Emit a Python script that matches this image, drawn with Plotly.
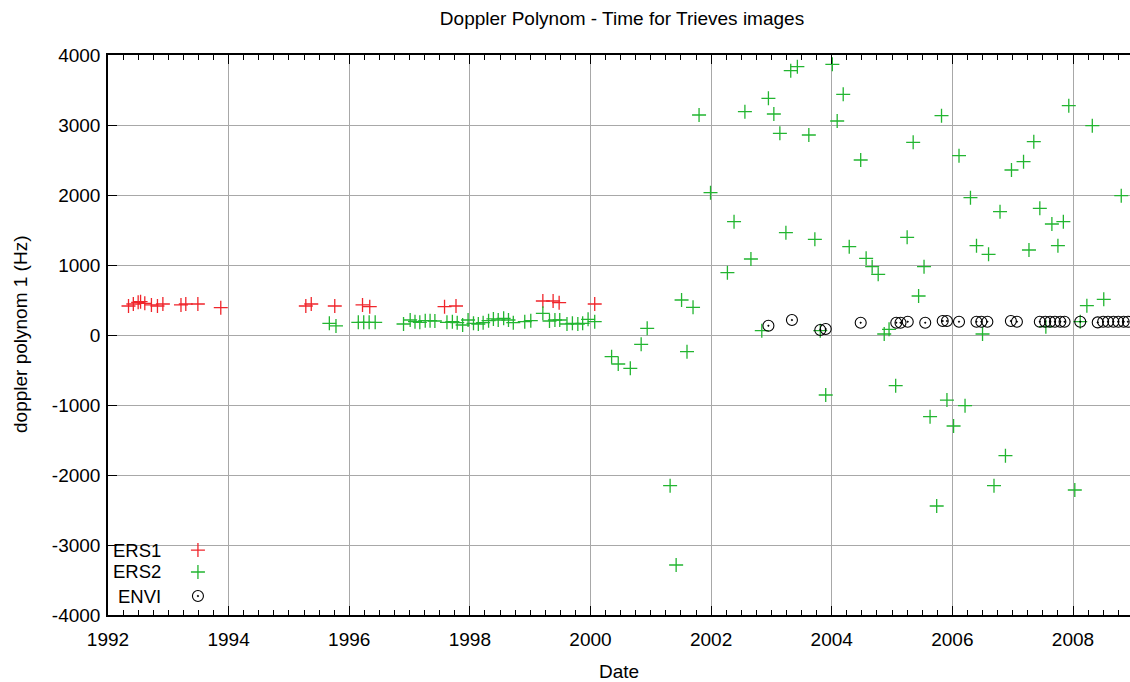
import plotly.graph_objects as go

# ---- data: acquisition date (decimal year) and Doppler polynomial coefficient (Hz)
ers1_dates = [1992.34, 1992.42, 1992.50, 1992.54, 1992.61, 1992.72, 1992.82, 1992.91,
              1993.21, 1993.29, 1993.49, 1993.87, 1995.28, 1995.37, 1995.76, 1996.22,
              1996.34, 1997.58, 1997.77, 1999.21, 1999.38, 1999.48, 2000.07]
ers1_values = [414, 443, 467, 476, 452, 429, 414, 443,
               429, 443, 443, 390, 414, 443, 414, 429,
               405, 405, 414, 486, 486, 462, 443]

ers2_dates = [1995.67, 1995.78, 1996.15, 1996.24, 1996.33, 1996.43, 1996.90, 1997.01,
              1997.09, 1997.17, 1997.26, 1997.34, 1997.42, 1997.62, 1997.71, 1997.79,
              1997.88, 1997.97, 1998.06, 1998.14, 1998.22, 1998.31, 1998.39, 1998.47,
              1998.56, 1998.64, 1998.72, 1998.91, 1999.01, 1999.21, 1999.32, 1999.41,
              1999.49, 1999.61, 1999.70, 1999.79, 1999.87, 1999.96, 2000.07, 2000.35,
              2000.46, 2000.66, 2000.84, 2000.94, 2001.32, 2001.42, 2001.51, 2001.60,
              2001.70, 2001.80, 2001.99, 2002.27, 2002.38, 2002.56, 2002.66, 2002.84,
              2002.95, 2003.04, 2003.14, 2003.24, 2003.32, 2003.43, 2003.62, 2003.72,
              2003.81, 2003.90, 2004.01, 2004.09, 2004.19, 2004.29, 2004.48, 2004.57,
              2004.67, 2004.77, 2004.87, 2004.95, 2005.06, 2005.25, 2005.35, 2005.44,
              2005.53, 2005.63, 2005.74, 2005.82, 2005.91, 2006.02, 2006.11, 2006.21,
              2006.30, 2006.40, 2006.50, 2006.60, 2006.69, 2006.79, 2006.88, 2006.98,
              2007.18, 2007.27, 2007.35, 2007.45, 2007.55, 2007.65, 2007.75, 2007.84,
              2007.93, 2008.03, 2008.12, 2008.23, 2008.32, 2008.51, 2008.80]
ers2_values = [167, 129, 181, 181, 181, 181, 157, 214,
               190, 181, 204, 204, 200, 181, 190, 176,
               143, 214, 167, 157, 176, 204, 229, 214,
               238, 214, 176, 190, 204, 310, 200, 214,
               214, 157, 167, 157, 167, 224, 190, -310,
               -414, -476, -133, 95, -2152, -3286, 500, -238,
               395, 3143, 2033, 890, 1619, 3190, 1086, 62,
               3381, 3157, 2881, 1462, 3776, 3833, 2857, 1367,
               62, -857, 3867, 3057, 3438, 1262, 2500, 1095,
               976, 867, 14, 81, -724, 1395, 2752, 557,
               976, -1167, -2443, 3133, -929, -1300, 2562, -1010,
               1962, 1276, 14, 1152, -2152, 1762, -1724, 2357,
               2476, 1214, 2762, 1810, 119, 1586, 1276, 1619,
               3276, -2214, 190, 419, 2990, 510, 1990]

envi_dates = [2002.95, 2003.34, 2003.81, 2003.90, 2004.48, 2005.07, 2005.14, 2005.26,
              2005.55, 2005.84, 2005.91, 2006.11, 2006.40, 2006.48, 2006.58, 2006.97,
              2007.07, 2007.45, 2007.54, 2007.62, 2007.70, 2007.79, 2007.86, 2008.12,
              2008.41, 2008.50, 2008.58, 2008.67, 2008.75, 2008.84, 2008.91]
envi_values = [133, 214, 71, 86, 176, 176, 176, 190,
               176, 200, 200, 190, 190, 190, 190, 200,
               190, 190, 190, 190, 190, 190, 190, 190,
               180, 190, 190, 190, 190, 190, 190]

x_ticks = [1992, 1994, 1996, 1998, 2000, 2002, 2004, 2006, 2008]
x_labels = [str(v) for v in x_ticks]
y_ticks = [-4000, -3000, -2000, -1000, 0, 1000, 2000, 3000, 4000]
y_labels = [str(v) for v in y_ticks]

series_names = ["ERS1", "ERS2", "ENVI"]

# ---- styling
FONT = "Liberation Sans, Arial, Helvetica, sans-serif"
FS = 19
RED = "#f0252b"
GREEN = "#22b530"
GRID = "#a8a8a8"

W, H = 1130, 682
M_L, M_R, M_T, M_B = 108, 0, 55, 67
PX_PER_YEAR = 60.3125
x_max = 1992 + (W - M_L - M_R) / PX_PER_YEAR
plot_w = W - M_L - M_R


def plus_marker(color):
    return dict(symbol="cross-thin", size=10, color=color, line=dict(width=1.3, color=color))


circ = dict(symbol="circle-open-dot", size=11, color="black", line=dict(width=1.1, color="black"))

fig = go.Figure()
fig.add_trace(go.Scatter(x=ers1_dates, y=ers1_values, mode="markers", name=series_names[0],
                         marker=plus_marker(RED)))
fig.add_trace(go.Scatter(x=ers2_dates, y=ers2_values, mode="markers", name=series_names[1],
                         marker=plus_marker(GREEN)))
fig.add_trace(go.Scatter(x=envi_dates, y=envi_values, mode="markers", name=series_names[2],
                         marker=circ))

# ---- key in the lower-left corner: opaque box, right-aligned names, sample symbols
key_box = (0.0, 0.0, 0.1252, 0.139)  # paper fractions of the plot area
key_rows = [0.116, 0.0768, 0.0339]
key_text_x = 0.0525
key_sym_x = 0.088
fig.add_shape(type="rect", xref="paper", yref="paper",
              x0=key_box[0], y0=key_box[1], x1=key_box[2], y1=key_box[3],
              fillcolor="white", line=dict(width=0), layer="between")
for name, ry in zip(series_names, key_rows):
    fig.add_annotation(xref="paper", yref="paper", x=key_text_x, y=ry, text=name,
                       showarrow=False, xanchor="right", yanchor="middle", borderpad=0,
                       font=dict(family=FONT, size=FS - 0.5, color="black"))
key_markers = [plus_marker(RED), plus_marker(GREEN), circ]
for ry, mk in zip(key_rows, key_markers):
    fig.add_trace(go.Scatter(x=[key_sym_x], y=[ry], mode="markers", marker=mk,
                             xaxis="x2", yaxis="y2", showlegend=False, hoverinfo="skip"))

# ---- y-axis title, placed at a fixed distance from the left edge
fig.add_annotation(xref="paper", yref="paper", x=(20 - M_L) / plot_w, y=0.5,
                   text="doppler polynom 1 (Hz)", textangle=-90, showarrow=False,
                   xanchor="center", yanchor="middle",
                   font=dict(family=FONT, size=FS, color="black"))

axis_font = dict(family=FONT, size=FS, color="black")

fig.update_layout(
    width=W, height=H,
    margin=dict(l=M_L, r=M_R, t=M_T, b=M_B, pad=0),
    paper_bgcolor="white", plot_bgcolor="white",
    showlegend=False,
    font=dict(family=FONT, size=FS, color="black"),
    title=dict(text="Doppler Polynom - Time for Trieves images", x=622 / W, xref="container",
               xanchor="center", y=1 - 18 / H, yanchor="middle",
               font=dict(family=FONT, size=FS, color="black")),
    xaxis=dict(
        range=[1992, x_max], tickmode="array", tickvals=x_ticks, ticktext=x_labels,
        ticks="inside", ticklen=9, tickwidth=1, tickcolor="black",
        showline=True, linecolor="black", linewidth=1.5, mirror="ticks",
        showgrid=True, gridcolor=GRID, gridwidth=1, zeroline=False,
        minor=dict(dtick=0.25, tick0=1992, ticks="inside", ticklen=5, tickwidth=1,
                   tickcolor="black", showgrid=False),
        tickfont=axis_font, ticklabelstandoff=6,
        title=dict(text="Date", font=dict(family=FONT, size=FS), standoff=19),
    ),
    yaxis=dict(
        range=[-4000, 4000], tickmode="array", tickvals=y_ticks, ticktext=y_labels,
        ticks="inside", ticklen=9, tickwidth=1, tickcolor="black",
        showline=True, linecolor="black", linewidth=1.5, mirror=False,
        showgrid=True, gridcolor=GRID, gridwidth=1, zeroline=False,
        tickfont=axis_font, ticklabelstandoff=2,
    ),
    xaxis2=dict(overlaying="x", range=[0, 1], visible=False, fixedrange=True),
    yaxis2=dict(overlaying="y", range=[0, 1], visible=False, fixedrange=True),
)

fig.write_html("out.html")
